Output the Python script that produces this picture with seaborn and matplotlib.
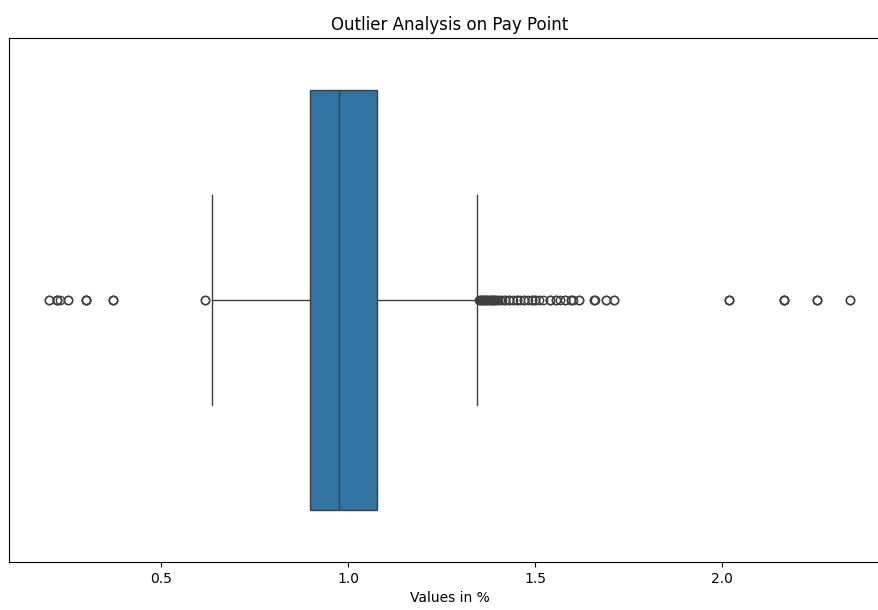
import numpy as np
import pandas as pd
import matplotlib
matplotlib.use("Agg")
import matplotlib.pyplot as plt
import seaborn as sns

# Values (Pay Point, in %)
low_outliers = [0.20, 0.20, 0.22, 0.22, 0.22, 0.23, 0.25, 0.25,
                0.30, 0.30, 0.30, 0.30, 0.37, 0.37, 0.37, 0.616, 0.616]
body_values = [0.635, 0.75, 0.897, 0.975, 1.077, 1.20, 1.345]
body_counts = [1, 200, 200, 200, 200, 150, 1]
high_outliers = [1.350, 1.352, 1.355, 1.358, 1.360, 1.363, 1.366, 1.369, 1.372,
                 1.375, 1.378, 1.381, 1.384, 1.387, 1.390, 1.393, 1.396, 1.400,
                 1.405, 1.410, 1.420, 1.420, 1.430, 1.430, 1.440, 1.450, 1.450,
                 1.460, 1.470, 1.470, 1.480, 1.490, 1.490, 1.500, 1.500, 1.510,
                 1.520, 1.540, 1.540, 1.555, 1.555, 1.565, 1.580, 1.580, 1.595,
                 1.595, 1.600, 1.618, 1.618, 1.657, 1.657, 1.660, 1.688, 1.688,
                 1.710, 1.710,
                 2.018, 2.018, 2.018, 2.164, 2.164, 2.164, 2.164,
                 2.252, 2.252, 2.252, 2.341, 2.341]

pay_point = np.concatenate([low_outliers,
                            np.repeat(body_values, body_counts),
                            high_outliers])
df = pd.DataFrame({"Pay Point": pay_point})

fig = plt.figure(figsize=(8.79, 6.10), dpi=100)
ax = fig.add_axes([9 / 879, 48 / 610, 881 / 879, 524 / 610])
sns.boxplot(data=df, x="Pay Point", ax=ax)
ax.set_title("Outlier Analysis on Pay Point", fontsize=12)
ax.set_xlabel("Values in %")
ax.set_ylabel("")
ax.set_yticks([])
ax.set_xticks([0.5, 1.0, 1.5, 2.0])
fig.savefig("out.png", dpi=100)
